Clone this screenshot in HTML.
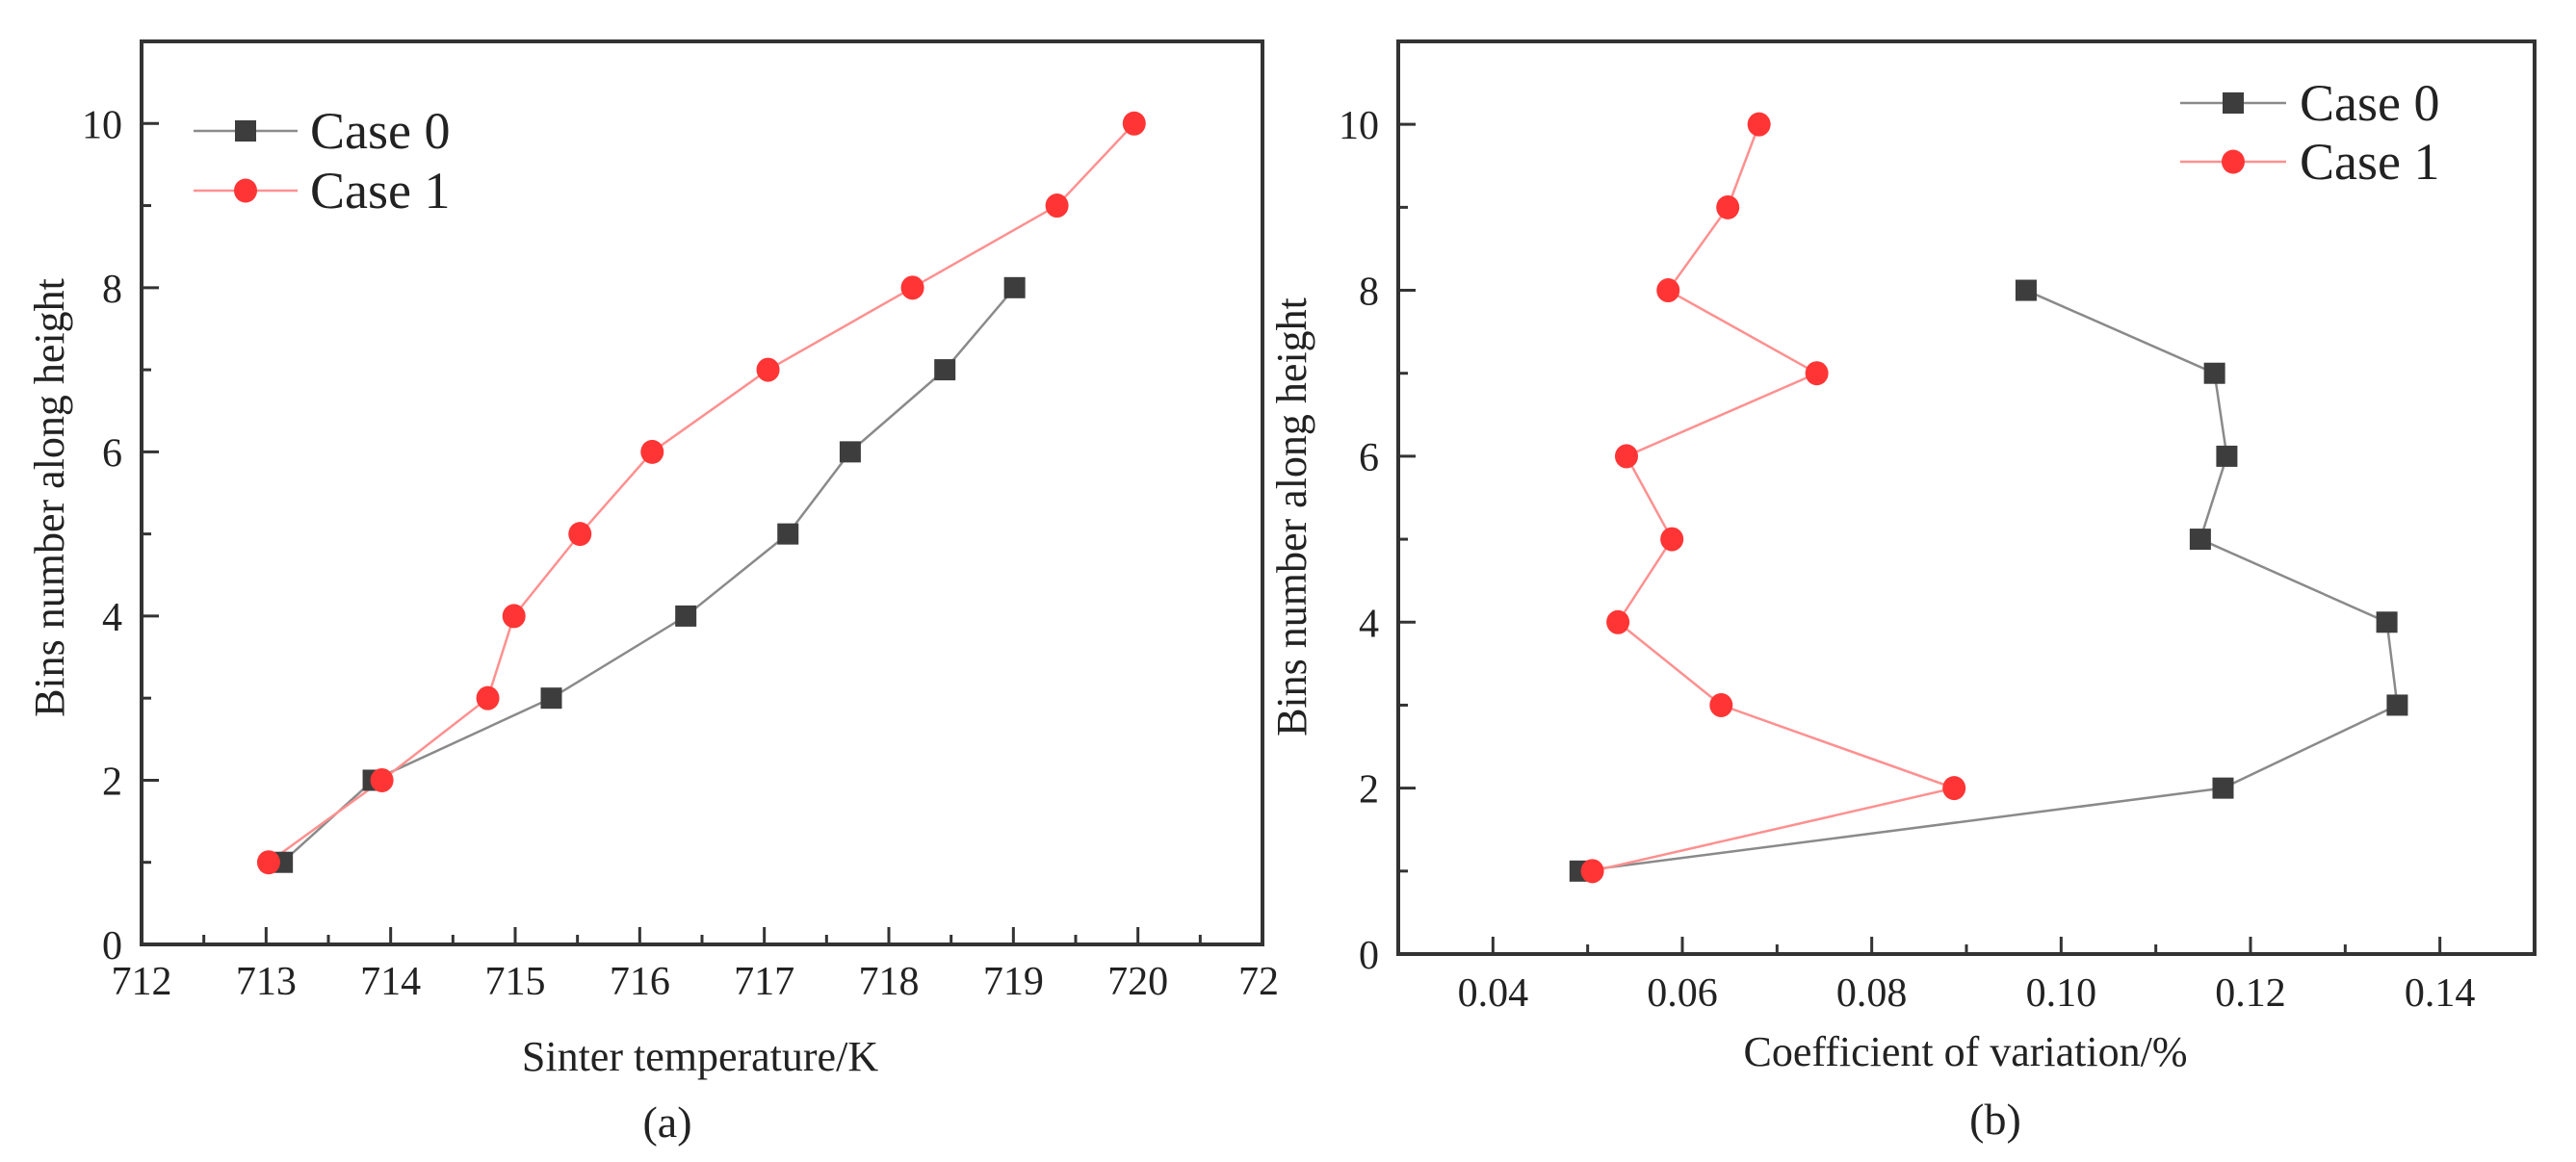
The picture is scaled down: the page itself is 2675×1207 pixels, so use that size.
<!DOCTYPE html>
<html><head><meta charset="utf-8"><style>
html,body{margin:0;padding:0;background:#fff;}
svg{display:block;font-family:"Liberation Serif",serif;}
</style></head><body>
<svg id="chart" width="2675" height="1207" viewBox="0 0 2675 1207" xmlns="http://www.w3.org/2000/svg">
<rect x="0" y="0" width="2675" height="1207" fill="#fff"/>
<g id="pa"></g>
<g id="pb"></g>
</svg>
<script>
const yBins = [1,2,3,4,5,6,7,8,9,10];
const aCase0 = [713.13,713.86,715.29,716.37,717.19,717.69,718.45,719.01];
const aCase1 = [713.02,713.93,714.78,714.99,715.52,716.10,717.03,718.19,719.35,719.97];
const bCase0 = [0.0492,0.1171,0.1355,0.1344,0.1147,0.1175,0.1162,0.0963];
const bCase1 = [0.0505,0.0887,0.0641,0.0532,0.0589,0.0541,0.0742,0.0585,0.0648,0.0681];
const aXTicks = [712,713,714,715,716,717,718,719,720];
const bXTicks = [0.04,0.06,0.08,0.10,0.12,0.14];
const bXTickLabels = ["0.04","0.06","0.08","0.10","0.12","0.14"];
const yTicks = [0,2,4,6,8,10];

const NS="http://www.w3.org/2000/svg";
function mk(parent,tag,attrs,text){const e=document.createElementNS(NS,tag);for(const k in attrs)e.setAttribute(k,attrs[k]);if(text!==undefined)e.textContent=text;parent.appendChild(e);return e;}

function panel(g,cfg){
  const {L,R,T,B,xmin,xmax,ymin,ymax}=cfg;
  const sx=v=>L+(v-xmin)/(xmax-xmin)*(R-L);
  const sy=v=>B-(v-ymin)/(ymax-ymin)*(B-T);
  const frame=mk(g,'rect',{x:L,y:T,width:R-L,height:B-T,fill:'none',stroke:'#333',"stroke-width":4});
  
  
  for(let v=cfg.xminor0; v<=xmax+1e-9; v+=cfg.xminorStep){
    const x=sx(v); if(x<L+3||x>R-3) continue;
    const isMajor=cfg.xTicks.some(t=>Math.abs(t-v)<1e-6);
    const t=mk(g,'line',{x1:x,x2:x,y1:B,y2:B-(isMajor?18:10),stroke:'#333',"stroke-width":3});
    
    
  }
  cfg.xTicks.forEach((v,i)=>{
    const t=mk(g,'text',{x:sx(v),y:cfg.xLabY,"font-size":42,"text-anchor":"middle",fill:'#222'},cfg.xLabels[i]);
    
    
  });
  for(let v=1; v<=ymax-0.5; v+=1){
    const y=sy(v); const major=v%2===0;
    const t=mk(g,'line',{x1:L,x2:L+(major?18:10),y1:y,y2:y,stroke:'#333',"stroke-width":3});
    
    
  }
  yTicks.forEach(v=>{
    const t=mk(g,'text',{x:L-20,y:sy(v)+15,"font-size":42,"text-anchor":"end",fill:'#222'},String(v));
    
    
  });
  const series=[{d:cfg.s0,line:'#8a8a8a',mark:'sq',name:'case-0'},{d:cfg.s1,line:'#ff9090',mark:'ci',name:'case-1'}];
  series.forEach(s=>{
    const pts=s.d.map((v,i)=>sx(v)+','+sy(yBins[i])).join(' ');
    const pl=mk(g,'polyline',{points:pts,fill:'none',stroke:s.line,"stroke-width":2.5});
    
    
  });
  series.forEach(s=>{
    s.d.forEach((v,i)=>{
      let m;
      if(s.mark==='sq') m=mk(g,'rect',{x:sx(v)-11,y:sy(yBins[i])-11,width:22,height:22,fill:'#3d3d3d'});
      else m=mk(g,'ellipse',{cx:sx(v),cy:sy(yBins[i]),rx:12,ry:12.5,fill:'#ff3535'});
      
      
    });
  });
  const lg=cfg.leg;
  [[0,'#8a8a8a','sq','Case 0'],[1,'#ff9090','ci','Case 1']].forEach(([k,c,mtype,label])=>{
    const y=lg.y0+k*lg.dy;
    const ln=mk(g,'line',{x1:lg.x1,x2:lg.x2,y1:y,y2:y,stroke:c,"stroke-width":2.5});
    
    
    const mx=(lg.x1+lg.x2)/2;
    let m;
    if(mtype==='sq') m=mk(g,'rect',{x:mx-11,y:y-11,width:22,height:22,fill:'#3d3d3d'});
    else m=mk(g,'ellipse',{cx:mx,cy:y,rx:12,ry:12.5,fill:'#ff3535'});
    
    
    const t=mk(g,'text',{x:lg.tx,y:y+18,"font-size":54,fill:'#222'},label);
    
    
  });
  const xt=mk(g,'text',{x:cfg.xTitle[0],y:cfg.xTitle[1],"font-size":44,"text-anchor":"middle",fill:'#222'},cfg.xTitleText);
  
  
  const yt=mk(g,'text',{x:0,y:0,"font-size":44,"text-anchor":"middle",fill:'#222',transform:`translate(${cfg.yTitle[0]},${cfg.yTitle[1]}) rotate(-90)`},'Bins number along height');
  
  
  const cap=mk(g,'text',{x:cfg.cap[0],y:cfg.cap[1],"font-size":46,"text-anchor":"middle",fill:'#222'},cfg.capText);
  
  
}

panel(document.getElementById('pa'),{L:147,R:1311,T:43,B:981,xmin:712,xmax:721,ymin:0,ymax:11,
  xminor0:712,xminorStep:0.5,xTicks:aXTicks,xLabels:aXTicks.map(String),xLabY:1033,
  s0:aCase0,s1:aCase1,leg:{x1:201,x2:309,y0:136,dy:62,tx:322},
  xTitle:[727,1112],xTitleText:'Sinter temperature/K',yTitle:[66,517],cap:[693,1181],capText:'(a)'});
panel(document.getElementById('pb'),{L:1452,R:2632,T:43,B:991,xmin:0.03,xmax:0.15,ymin:0,ymax:11,
  xminor0:0.03,xminorStep:0.01,xTicks:bXTicks,xLabels:bXTickLabels,xLabY:1045,
  s0:bCase0,s1:bCase1,leg:{x1:2264,x2:2374,y0:107,dy:61,tx:2388},
  xTitle:[2041,1107],xTitleText:'Coefficient of variation/%',yTitle:[1356,537],cap:[2072,1178],capText:'(b)'});
const cl=document.createElementNS(NS,'text');
cl.setAttribute('x',1286);cl.setAttribute('y',1033);cl.setAttribute('font-size',42);cl.setAttribute('fill','#222');
cl.textContent='72';


document.getElementById('pa').appendChild(cl);
</script>
</body></html>
